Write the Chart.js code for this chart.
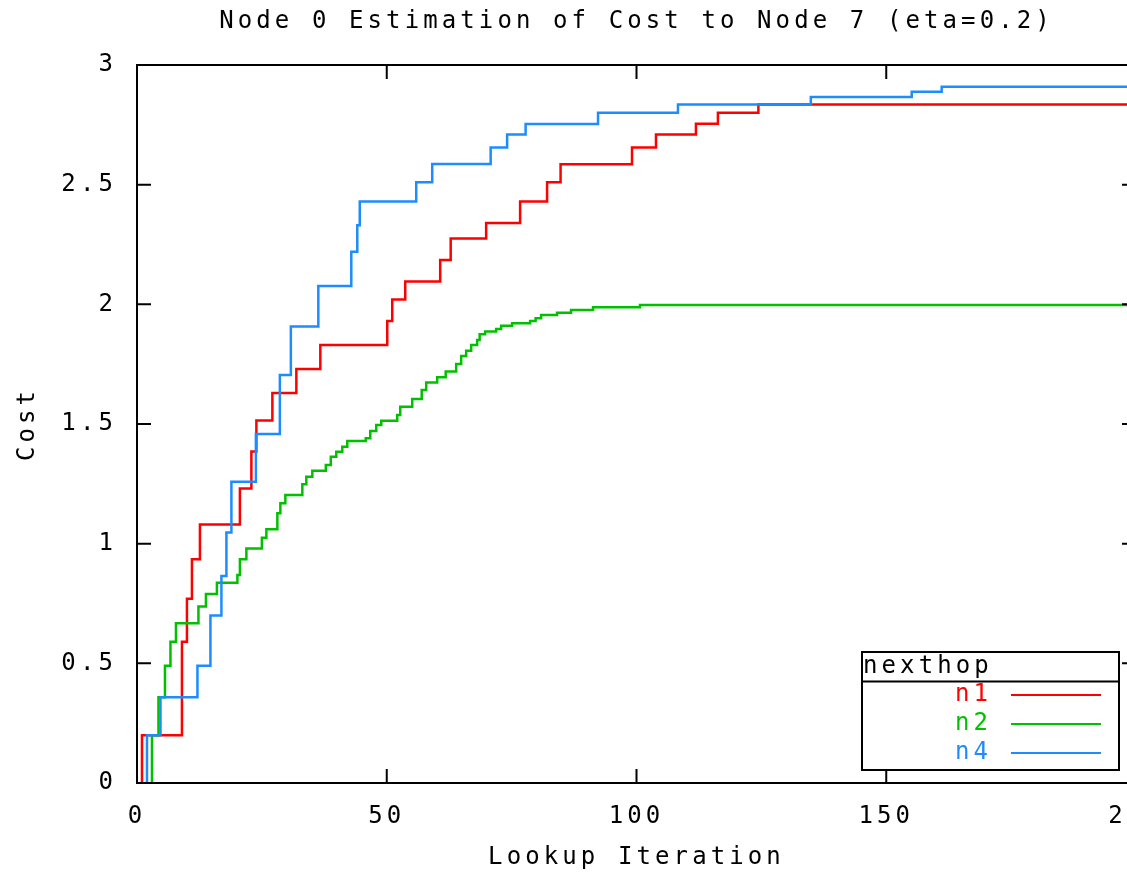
<!DOCTYPE html>
<html>
<head>
<meta charset="utf-8">
<script src="https://cdn.jsdelivr.net/npm/chart.js@4.4.1/dist/chart.umd.min.js"></script>
<style>
    html, body { margin: 0; padding: 0; background: #fff; overflow: hidden; }
    canvas { display: block; }
</style>
</head>
<body>
<canvas id="myChart" width="1160" height="872"></canvas>
<script>
const titleText = 'Node 0 Estimation of Cost to Node 7 (eta=0.2)'
const legendTitle = 'nexthop'
const xTicks = [0, 50, 100, 150, 200]
const yTicks = [0, 0.5, 1, 1.5, 2, 2.5, 3]

// n1 (red)
const n1X = [1, 1, 9, 10, 11, 12.6, 20.6, 22.9, 23.9, 27.1, 31.9, 36.7, 50.1, 51.1, 53.7, 60.7, 62.8, 69.9, 76.7, 82.1, 84.8, 99.1, 103.9, 111.9, 116.3, 124.4, 200]
const n1Y = [0, 0.2, 0.59, 0.77, 0.935, 1.08, 1.23, 1.385, 1.515, 1.63, 1.73, 1.83, 1.93, 2.02, 2.095, 2.185, 2.275, 2.34, 2.43, 2.51, 2.585, 2.655, 2.71, 2.755, 2.8, 2.835, 2.835]

// n2 (green)
const n2X = [3, 3, 4.3, 5.6, 6.7, 7.8, 12.3, 13.8, 16, 20.1, 20.6, 21.9, 25, 25.9, 28.1, 28.7, 29.7, 33.1, 33.9, 35.1, 37.8, 38.8, 39.9, 41.1, 42.1, 45.8, 46.7, 47.9, 48.9, 52.1, 52.7, 55.1, 57, 57.9, 60.1, 61.8, 63.9, 64.9, 65.9, 66.9, 68.1, 68.6, 69.7, 71.9, 72.9, 75.1, 78.7, 79.8, 80.9, 84.1, 86.9, 91.3, 100.7, 200]
const n2Y = [0, 0.2, 0.358, 0.49, 0.59, 0.667, 0.737, 0.79, 0.837, 0.869, 0.935, 0.98, 1.025, 1.06, 1.127, 1.169, 1.203, 1.248, 1.28, 1.305, 1.329, 1.363, 1.384, 1.405, 1.429, 1.44, 1.471, 1.496, 1.514, 1.538, 1.572, 1.604, 1.642, 1.673, 1.695, 1.719, 1.751, 1.784, 1.806, 1.83, 1.851, 1.875, 1.886, 1.897, 1.91, 1.921, 1.93, 1.942, 1.955, 1.965, 1.976, 1.988, 1.997, 1.997]

// n4 (blue)
const n4X = [2, 2, 4.7, 12.1, 14.7, 16.9, 17.9, 18.9, 23.8, 28.6, 30.8, 36.3, 42.9, 44.1, 44.6, 55.9, 59.1, 70.8, 74.1, 77.8, 92.3, 108.3, 134.9, 155.1, 161.1, 200]
const n4Y = [0, 0.2, 0.358, 0.49, 0.70, 0.865, 1.047, 1.259, 1.458, 1.705, 1.907, 2.077, 2.22, 2.33, 2.43, 2.51, 2.586, 2.655, 2.71, 2.753, 2.80, 2.835, 2.866, 2.888, 2.909, 2.909]

const toPoints = (xs, ys) => xs.map((x, i) => ({ x: x, y: ys[i] }))

const FONT = "'DejaVu Sans Mono', monospace"
const FSIZE = 24
const LS = '4.1px'

Chart.defaults.font.family = FONT
Chart.defaults.font.size = FSIZE
Chart.defaults.color = '#000'

// gnuplot-ish wide spacing for all text
const spacing = {
    id: 'spacing',
    beforeUpdate(chart) { chart.ctx.letterSpacing = LS },
    beforeLayout(chart) { chart.ctx.letterSpacing = LS },
    beforeDraw(chart) { chart.ctx.letterSpacing = LS },
}

// box border, inward ticks on all sides, and the key
const frame = {
    id: 'frame',
    afterDatasetsDraw(chart) {
        const { ctx, chartArea: a, scales } = chart
        ctx.save()
        ctx.strokeStyle = '#000'
        ctx.lineWidth = 2
        ctx.beginPath()
        scales.x.ticks.forEach(t => {
            const px = scales.x.getPixelForValue(t.value)
            ctx.moveTo(px, a.bottom); ctx.lineTo(px, a.bottom - 14)
            ctx.moveTo(px, a.top); ctx.lineTo(px, a.top + 14)
        })
        scales.y.ticks.forEach(t => {
            const py = scales.y.getPixelForValue(t.value)
            ctx.moveTo(a.left, py); ctx.lineTo(a.left + 14, py)
            ctx.moveTo(a.right, py); ctx.lineTo(a.right - 14, py)
        })
        ctx.stroke()
        ctx.strokeRect(a.left, a.top, a.right - a.left, a.bottom - a.top)

        // key
        const bx = a.right - 274, by = a.bottom - 131, bw = 257, bh = 118
        ctx.fillStyle = '#fff'
        ctx.fillRect(bx, by, bw, bh)
        ctx.strokeRect(bx, by, bw, bh)
        ctx.beginPath()
        ctx.moveTo(bx, by + 29.5); ctx.lineTo(bx + bw, by + 29.5)
        ctx.stroke()

        ctx.font = FSIZE + 'px ' + FONT
        ctx.letterSpacing = LS
        ctx.textBaseline = 'middle'
        ctx.fillStyle = '#000'
        ctx.textAlign = 'left'
        ctx.fillText(legendTitle, bx + 1, by + 15)

        chart.data.datasets.forEach((ds, i) => {
            const y = by + 43 + i * 29
            ctx.fillStyle = ds.borderColor
            ctx.textAlign = 'right'
            ctx.fillText(ds.label, bx + 130, y)
            ctx.strokeStyle = ds.borderColor
            ctx.beginPath()
            ctx.moveTo(bx + 149, y); ctx.lineTo(bx + 239, y)
            ctx.stroke()
        })
        ctx.restore()
    }
}

new Chart(document.getElementById('myChart'), {
    type: 'line',
    data: {
        datasets: [
            { label: 'n1', data: toPoints(n1X, n1Y), borderColor: '#ff0000', order: 3 },
            { label: 'n2', data: toPoints(n2X, n2Y), borderColor: '#00c000', order: 2 },
            { label: 'n4', data: toPoints(n4X, n4Y), borderColor: '#1e8cff', order: 1 },
        ]
    },
    options: {
        responsive: false,
        animation: false,
        devicePixelRatio: 1,
        layout: { padding: { top: 0, left: 0, right: 24, bottom: 0 } },
        elements: {
            line: { borderWidth: 2.5, stepped: true, tension: 0, fill: false },
            point: { radius: 0 },
        },
        plugins: {
            legend: { display: false },
            tooltip: { enabled: false },
            title: {
                display: true,
                text: titleText,
                fullSize: false,
                font: { size: FSIZE, weight: 'normal' },
                padding: { top: 7.6, bottom: 28.6 },
            },
        },
        scales: {
            x: {
                type: 'linear',
                min: 0,
                max: 200,
                grid: { display: false, drawTicks: false },
                border: { display: false },
                afterBuildTicks: s => { s.ticks = xTicks.map(v => ({ value: v })) },
                afterFit: s => { s.height = 89; s.paddingLeft = 0; s.paddingRight = 0 },
                ticks: { padding: 19, maxRotation: 0, autoSkip: false },
                title: { display: true, text: 'Lookup Iteration', padding: { top: 0, bottom: 0 } },
            },
            y: {
                min: 0,
                max: 3,
                grid: { display: false, drawTicks: false },
                border: { display: false },
                afterBuildTicks: s => { s.ticks = yTicks.map(v => ({ value: v })) },
                afterFit: s => { s.width = 137; s.paddingTop = 0; s.paddingBottom = 0 },
                ticks: { padding: 20, callback: v => String(v) },
                title: { display: true, text: 'Cost', padding: { top: 13.6, bottom: 0 } },
            },
        },
    },
    plugins: [spacing, frame],
})
</script>
</body>
</html>
